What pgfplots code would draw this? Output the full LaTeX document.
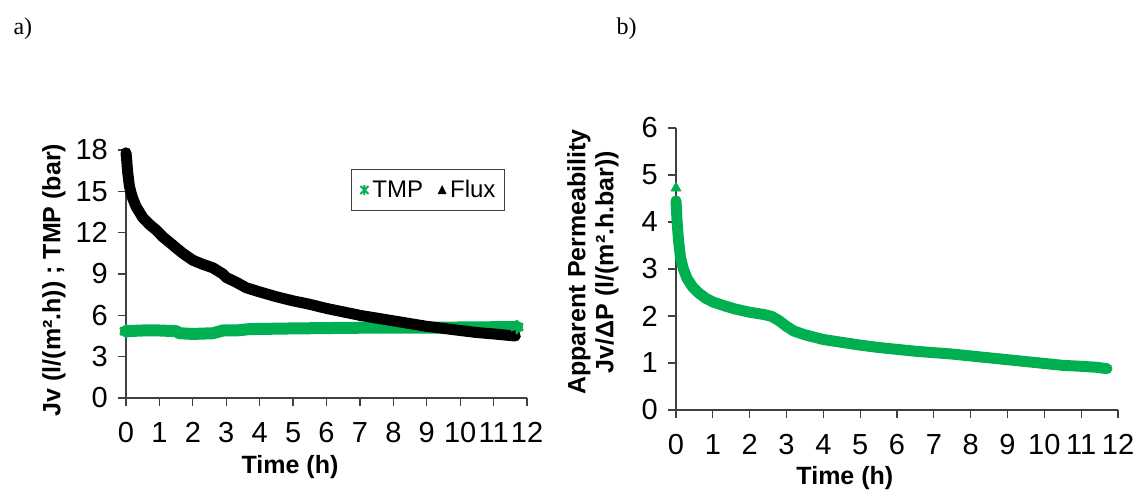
\documentclass[border=0pt]{standalone}
\usepackage{fontspec}
\setmainfont{Liberation Sans}
\newfontfamily\timesfont{Liberation Serif}
\usepackage{pgfplots}
\usepackage{pgfplotstable}
\pgfplotsset{compat=1.18}
\definecolor{XLGREEN}{HTML}{00B050}
\definecolor{AXIS}{HTML}{404040}

% flux, l/(m2.h)
\pgfplotstableread{
t J
0 17.8
0.02 17.3
0.05 16.4
0.1 15.4
0.15 14.9
0.2 14.5
0.3 13.9
0.4 13.5
0.5 13.1
0.7 12.6
0.9 12.2
1.1 11.7
1.3 11.3
1.5 10.9
1.7 10.5
2.0 10.0
2.3 9.7
2.6 9.45
2.9 9.0
3.0 8.75
3.3 8.4
3.6 8.0
4.0 7.7
4.5 7.35
5.0 7.05
5.5 6.8
6.0 6.5
6.5 6.25
7.0 6.0
7.5 5.8
8.0 5.6
8.5 5.4
9.0 5.2
9.5 5.05
10.0 4.9
10.5 4.75
11.0 4.65
11.3 4.58
11.65 4.5
}\fluxtab

% TMP, bar
\pgfplotstableread{
t P
0 4.85
0.5 4.9
1.0 4.9
1.5 4.85
1.6 4.7
2.0 4.65
2.6 4.7
2.9 4.9
3.3 4.9
3.7 5.0
5 5.05
7 5.1
9 5.1
11.7 5.15
}\tmptab

% apparent permeability
\pgfplotstableread{
t K
0.0 4.45
0.03 4.0
0.07 3.6
0.12 3.25
0.2 3.0
0.3 2.8
0.45 2.62
0.6 2.5
0.8 2.38
1.0 2.3
1.3 2.22
1.6 2.15
2.0 2.08
2.4 2.03
2.6 1.99
2.8 1.9
3.0 1.78
3.2 1.68
3.5 1.6
4 1.5
4.5 1.44
5 1.38
5.5 1.33
6 1.29
6.5 1.25
7 1.22
7.5 1.19
8 1.15
8.5 1.11
9 1.07
9.5 1.03
10 0.99
10.5 0.95
11 0.93
11.4 0.91
11.7 0.88
}\permtab

\tikzset{lblfont/.style={font=\bfseries\fontsize{25}{28}\selectfont}}
\pgfplotsset{
  xlpanel/.style={
    scale only axis, clip=false,
    axis x line*=bottom, axis y line*=left,
    axis line style={AXIS, line width=1.2pt},
    tick style={AXIS, line width=1.2pt},
    major tick length=8pt, tick align=outside,
    xmin=0, xmax=12, xtick={0,...,12}, ymin=0,
    /pgf/number format/assume math mode=true,
    tick label style={font=\fontsize{29}{29}\selectfont, inner sep=0pt},
    xticklabel style={anchor=north, yshift=-16pt},
    yticklabel style={anchor=east, xshift=-10pt},
  },
}

\begin{document}
\begin{tikzpicture}
\useasboundingbox (0pt,0pt) rectangle (1139pt,495pt);

\node[anchor=west, font=\timesfont\fontsize{24}{24}\selectfont] at (10pt,466pt) {a)};
\node[anchor=west, font=\timesfont\fontsize{24}{24}\selectfont] at (613pt,466pt) {b)};

\begin{axis}[xlpanel,
  at={(126pt,97pt)}, anchor=south west,
  width=401pt, height=248pt,
  ymax=18, ytick={0,3,...,18},
  xlabel={Time (h)},
  ylabel={Jv (l/(m².h)) ; TMP (bar)},
  every axis x label/.style={lblfont, at={(axis description cs:0.409,0)}, anchor=center, yshift=-69pt},
  every axis y label/.style={lblfont, at={(axis description cs:-0.18,0.476)}, rotate=90, anchor=center},
  legend columns=2,
  legend style={at={(axis description cs:0.945,0.923)}, anchor=north east,
    draw=AXIS, line width=1pt, font=\fontsize{24}{24}\selectfont,
    inner xsep=7pt, inner ysep=9pt,
    /tikz/every even column/.append style={column sep=11pt}},
]
\addplot[XLGREEN, line width=12pt, line join=round, line cap=round,
  legend image code/.code={
    \path[draw=none, fill=none] (0pt,-5pt) rectangle (12pt,5pt);
    \draw[XLGREEN, line width=2pt, line cap=butt]
      (6pt,-5pt) -- (6pt,5pt) (2pt,-4pt) -- (10pt,4pt) (2pt,4pt) -- (10pt,-4pt);}]
  table[x=t, y=P] {\tmptab};
\addlegendentry{TMP}
\addplot[only marks, XLGREEN, mark=asterisk, mark size=7pt,
  mark options={line width=2.5pt}, forget plot]
  coordinates {(0,4.85) (11.7,5.15)};
\addplot[black, line width=11pt, line join=round, line cap=round,
  legend image code/.code={
    \path[draw=none, fill=none] (0pt,-5pt) rectangle (12pt,5pt);
    \fill[black, draw=none] (1.5pt,-4pt) -- (10.5pt,-4pt) -- (6pt,5pt) -- cycle;}]
  table[x=t, y=J] {\fluxtab};
\addlegendentry{Flux}
\end{axis}

\begin{axis}[xlpanel,
  at={(676pt,85pt)}, anchor=south west,
  width=442pt, height=282pt,
  ymax=6, ytick={0,...,6},
  xlabel={Time (h)},
  ylabel={Apparent Permeability\\Jv/ΔP (l/(m².h.bar))},
  every axis x label/.style={lblfont, at={(axis description cs:0.382,0)}, anchor=center, yshift=-68pt},
  every axis y label/.style={lblfont, at={(axis description cs:-0.188,0.525)}, rotate=90, anchor=center, align=center},
]
\addplot[XLGREEN, line width=11pt, line join=round, line cap=round] table[x=t, y=K] {\permtab};
\addplot[only marks, XLGREEN, mark=triangle*, mark size=6pt] coordinates {(0,4.72)};
\end{axis}
\end{tikzpicture}
\end{document}
